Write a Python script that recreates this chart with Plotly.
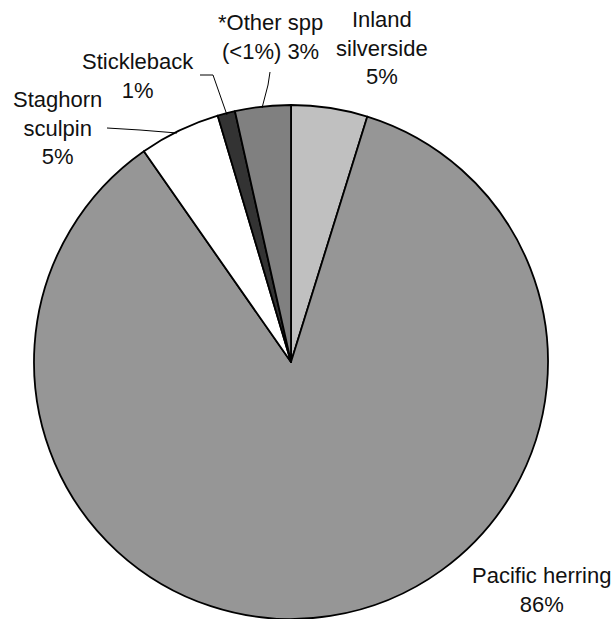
import plotly.graph_objects as go

W, H = 615, 619

species = ["Inland silverside", "Pacific herring", "Staghorn sculpin", "Stickleback", "*Other spp (<1%)"]
shares = [4.8, 85.5, 5.1, 1.1, 3.5]
pct_labels = ["5%", "86%", "5%", "1%", "3%"]
colors = ["#c0c0c0", "#969696", "#ffffff", "#333333", "#808080"]

def px(x, y):
    return x / W, 1 - y / H

x0, y1 = px(34, 105)
x1, y0 = px(548, 619)

fig = go.Figure(go.Pie(
    labels=species, values=shares, sort=False, direction="clockwise", rotation=0,
    marker=dict(colors=colors, line=dict(color="black", width=1.8)),
    textinfo="none", hoverinfo="label+percent", showlegend=False,
    domain=dict(x=[x0, x1], y=[max(0, y0), y1]),
))

label_text = [
    "Inland<br>silverside<br>" + pct_labels[0],
    "Pacific herring<br>" + pct_labels[1],
    "Staghorn<br>sculpin<br>" + pct_labels[2],
    "Stickleback<br>" + pct_labels[3],
    "*Other spp<br>(<1%) " + pct_labels[4],
]
label_pos = [(382, 48), (541, 590), (57, 128), (138, 76), (270, 37)]
for t, (x, y) in zip(label_text, label_pos):
    ax, ay = px(x, y)
    fig.add_annotation(x=ax, y=ay, xref="paper", yref="paper", text=t, showarrow=False,
                       font=dict(family="Liberation Sans, Arial", size=22, color="#111111"),
                       xanchor="center", yanchor="middle", align="center")

leaders = [
    [(107, 128), (140, 130), (177, 133)],
    [(200, 75), (213, 75), (227, 115)],
    [(270, 72), (268, 85), (262, 108)],
]
for pts in leaders:
    path = ""
    for i, (x, y) in enumerate(pts):
        X, Y = px(x, y)
        path += ("M" if i == 0 else "L") + f"{X},{Y} "
    fig.add_shape(type="path", path=path, xref="paper", yref="paper",
                  line=dict(color="black", width=1))

fig.update_layout(width=W, height=H, margin=dict(l=0, r=0, t=0, b=0),
                  paper_bgcolor="white", plot_bgcolor="white")
fig.write_html("out.html", config={"displayModeBar": False},
               post_script="document.body.style.margin='0';document.body.style.overflow='hidden';")
